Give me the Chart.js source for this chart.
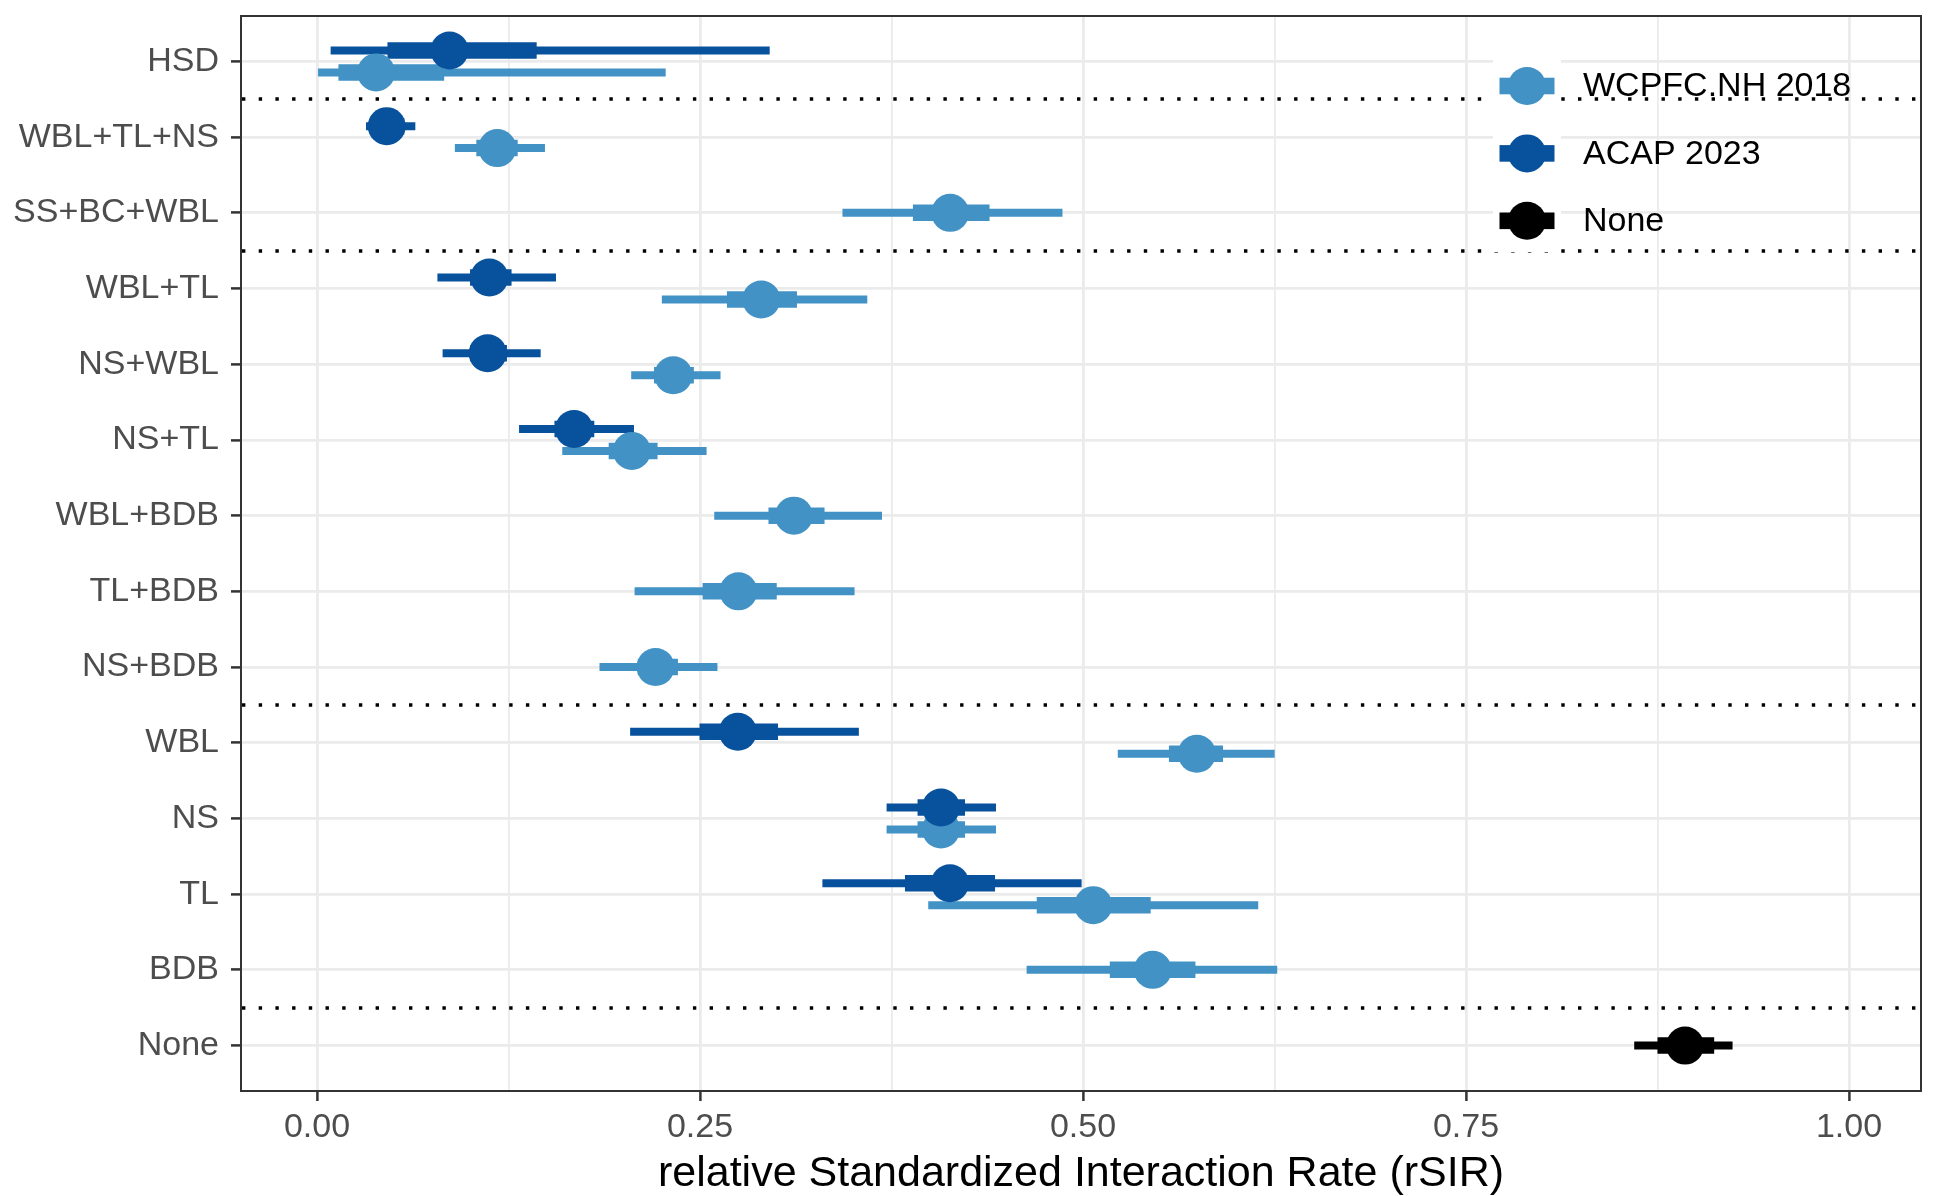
<!DOCTYPE html>
<html lang="en">
  <head>
    <meta charset="UTF-8" />
    <title>relative Standardized Interaction Rate</title>
    <script src="https://cdn.jsdelivr.net/npm/chart.js"></script>
    <style>
      html,
      body {
        margin: 0;
        padding: 0;
        background-color: #ffffff;
      }
    </style>
  </head>
  <body>
    <canvas id="rsirChart" width="1934" height="1196"></canvas>

    <script>
      // Mitigation combinations, top to bottom
      const categories = [
        "HSD",
        "WBL+TL+NS",
        "SS+BC+WBL",
        "WBL+TL",
        "NS+WBL",
        "NS+TL",
        "WBL+BDB",
        "TL+BDB",
        "NS+BDB",
        "WBL",
        "NS",
        "TL",
        "BDB",
        "None",
      ];
      const seriesNames = ["WCPFC.NH 2018", "ACAP 2023", "None"];
      const seriesColors = ["#4292c6", "#08519c", "#000000"];

      // WCPFC.NH 2018: estimate, 95% and 50% intervals
      const wcpfcEst = [0.0386, 0.1177, 0.4133, 0.29, 0.2326, 0.2055, 0.3113, 0.2751, 0.221, 0.5743, 0.4073, 0.5067, 0.5455, null];
      const wcpfcLo95 = [0.0007, 0.09, 0.343, 0.2251, 0.2051, 0.1601, 0.2593, 0.2073, 0.1844, 0.5227, 0.3718, 0.399, 0.4632, null];
      const wcpfcHi95 = [0.2276, 0.1488, 0.4866, 0.3592, 0.2634, 0.2543, 0.3688, 0.3509, 0.2614, 0.6251, 0.4432, 0.6144, 0.6268, null];
      const wcpfcLo50 = [0.014, 0.104, 0.389, 0.2676, 0.22, 0.1904, 0.2947, 0.2517, 0.2094, 0.5561, 0.392, 0.4698, 0.5175, null];
      const wcpfcHi50 = [0.083, 0.131, 0.439, 0.3133, 0.246, 0.2223, 0.3313, 0.3001, 0.2356, 0.5914, 0.423, 0.5442, 0.5734, null];

      // ACAP 2023
      const acapEst = [0.0865, 0.0455, null, 0.1125, 0.1114, 0.1678, null, null, null, 0.2747, 0.4073, 0.4132, null, null];
      const acapLo95 = [0.0089, 0.032, null, 0.0786, 0.082, 0.1319, null, null, null, 0.2044, 0.3718, 0.3299, null, null];
      const acapHi95 = [0.2955, 0.0642, null, 0.156, 0.146, 0.2069, null, null, null, 0.3537, 0.4432, 0.4991, null, null];
      const acapLo50 = [0.046, 0.036, null, 0.0999, 0.1, 0.155, null, null, null, 0.2497, 0.392, 0.3838, null, null];
      const acapHi50 = [0.1434, 0.057, null, 0.127, 0.124, 0.181, null, null, null, 0.3009, 0.423, 0.4426, null, null];

      // reference (no mitigation)
      const noneEst = [null, null, null, null, null, null, null, null, null, null, null, null, null, 0.893];
      const noneLo95 = [null, null, null, null, null, null, null, null, null, null, null, null, null, 0.8598];
      const noneHi95 = [null, null, null, null, null, null, null, null, null, null, null, null, null, 0.924];
      const noneLo50 = [null, null, null, null, null, null, null, null, null, null, null, null, null, 0.875];
      const noneHi50 = [null, null, null, null, null, null, null, null, null, null, null, null, null, 0.912];

      const xTickValues = [0, 0.25, 0.5, 0.75, 1];
      const xTickLabels = ["0.00", "0.25", "0.50", "0.75", "1.00"];
      const xMinorValues = [0.125, 0.375, 0.625, 0.875];
      const groupBreaks = [0.5, 2.5, 8.5, 12.5];

      const series = [
        { est: wcpfcEst, lo95: wcpfcLo95, hi95: wcpfcHi95, lo50: wcpfcLo50, hi50: wcpfcHi50, dodge: 0.145 },
        { est: acapEst, lo95: acapLo95, hi95: acapHi95, lo50: acapLo50, hi50: acapHi50, dodge: -0.145 },
        { est: noneEst, lo95: noneLo95, hi95: noneHi95, lo50: noneLo50, hi50: noneHi50, dodge: 0 },
      ];

      const FONT = '"Liberation Sans", Arial, sans-serif';

      // rows with two estimates get dodged vertically
      function rowY(s, i) {
        const shown = series.filter((d) => d.est[i] !== null).length;
        return shown > 1 ? i + series[s].dodge : i;
      }

      function segments(s, loArr, hiArr) {
        const out = [];
        series[s].est.forEach((v, i) => {
          if (v === null) return;
          const y = rowY(s, i);
          out.push({ x: loArr[i], y: y }, { x: hiArr[i], y: y }, { x: null, y: null });
        });
        return out;
      }

      const datasets = [];
      series.forEach((d, s) => {
        datasets.push({
          data: segments(s, d.lo95, d.hi95),
          showLine: true,
          spanGaps: false,
          borderColor: seriesColors[s],
          borderWidth: 8,
          borderCapStyle: "butt",
          pointRadius: 0,
          pointHoverRadius: 0,
          order: 9 - s,
        });
      });
      series.forEach((d, s) => {
        datasets.push({
          data: segments(s, d.lo50, d.hi50),
          showLine: true,
          spanGaps: false,
          borderColor: seriesColors[s],
          borderWidth: 16.5,
          borderCapStyle: "butt",
          pointRadius: 0,
          pointHoverRadius: 0,
          order: 6 - s,
        });
      });
      series.forEach((d, s) => {
        const pts = [];
        d.est.forEach((v, i) => {
          if (v !== null) pts.push({ x: v, y: rowY(s, i) });
        });
        datasets.push({
          data: pts,
          pointRadius: 19,
          pointHoverRadius: 19,
          pointBorderWidth: 0,
          pointBackgroundColor: seriesColors[s],
          backgroundColor: seriesColors[s],
          order: 3 - s,
        });
      });

      const isMajor = (v) => xTickValues.some((t) => Math.abs(t - v) < 1e-9);

      // dotted lines between groups of combinations
      const groupLines = {
        id: "groupLines",
        beforeDatasetsDraw(chart) {
          const { ctx, chartArea, scales } = chart;
          ctx.save();
          ctx.strokeStyle = "#000000";
          ctx.lineWidth = 3.5;
          ctx.setLineDash([3.4, 13.3]);
          groupBreaks.forEach((b) => {
            const y = Math.round(scales.y.getPixelForValue(b));
            ctx.beginPath();
            ctx.moveTo(chartArea.left + 1, y);
            ctx.lineTo(chartArea.right, y);
            ctx.stroke();
          });
          ctx.restore();
        },
      };

      // panel border + legend with white key boxes
      const panelExtras = {
        id: "panelExtras",
        afterDraw(chart) {
          const { ctx, chartArea } = chart;
          ctx.save();
          ctx.strokeStyle = "#333333";
          ctx.lineWidth = 2;
          ctx.strokeRect(chartArea.left, chartArea.top, chartArea.right - chartArea.left, chartArea.bottom - chartArea.top);

          const keyLeft = chartArea.right - 428;
          const keyTop = chartArea.top + 43;
          const keyW = 68;
          const step = 67.4;
          ctx.fillStyle = "#ffffff";
          ctx.fillRect(keyLeft, keyTop, keyW, step * 3 - 9);
          seriesNames.forEach((name, i) => {
            const cx = keyLeft + keyW / 2;
            const cy = keyTop + 27 + i * step;
            ctx.fillStyle = seriesColors[i];
            ctx.fillRect(cx - 27.5, cy - 8.3, 55, 16.6);
            ctx.beginPath();
            ctx.arc(cx, cy, 19, 0, Math.PI * 2);
            ctx.fill();
            ctx.fillStyle = "#000000";
            ctx.font = "34px " + FONT;
            ctx.textAlign = "left";
            ctx.textBaseline = "middle";
            ctx.fillText(name, keyLeft + 90, cy + 1);
          });
          ctx.restore();
        },
      };

      new Chart(document.getElementById("rsirChart"), {
        type: "scatter",
        data: { datasets: datasets },
        options: {
          responsive: false,
          animation: false,
          devicePixelRatio: 1,
          layout: { autoPadding: false, padding: { top: 16, right: 13, left: 0, bottom: 0 } },
          plugins: {
            legend: { display: false },
            tooltip: { enabled: false },
          },
          scales: {
            x: {
              type: "linear",
              min: -0.0496,
              max: 1.047,
              afterBuildTicks: (scale) => {
                scale.ticks = xTickValues.concat(xMinorValues).sort((a, b) => a - b).map((v) => ({ value: v }));
              },
              afterFit: (scale) => {
                scale.height = 105;
                scale.paddingLeft = 0;
                scale.paddingRight = 0;
              },
              border: { display: false },
              grid: {
                color: "#ebebeb",
                lineWidth: (ctx) => (ctx.tick && isMajor(ctx.tick.value) ? 2.8 : 1.8),
                tickColor: (ctx) => (ctx.tick && isMajor(ctx.tick.value) ? "#333333" : "rgba(0,0,0,0)"),
                tickWidth: 2.5,
                tickLength: 10,
              },
              ticks: {
                autoSkip: false,
                maxRotation: 0,
                padding: 6,
                color: "#4d4d4d",
                font: { family: FONT, size: 34 },
                callback: (v) => {
                  const k = xTickValues.findIndex((t) => Math.abs(t - v) < 1e-9);
                  return k >= 0 ? xTickLabels[k] : "";
                },
              },
              title: {
                display: true,
                text: "relative Standardized Interaction Rate (rSIR)",
                color: "#000000",
                font: { family: FONT, size: 43 },
                padding: { top: 0, bottom: -4 },
              },
            },
            y: {
              type: "linear",
              reverse: true,
              min: -0.6,
              max: 13.6,
              afterBuildTicks: (scale) => {
                scale.ticks = categories.map((c, i) => ({ value: i }));
              },
              afterFit: (scale) => {
                scale.width = 241;
                scale.paddingTop = 0;
                scale.paddingBottom = 0;
              },
              border: { display: false },
              grid: {
                color: "#ebebeb",
                lineWidth: 2.8,
                tickColor: "#333333",
                tickWidth: 2.5,
                tickLength: 10,
              },
              ticks: {
                autoSkip: false,
                padding: 12,
                color: "#4d4d4d",
                font: { family: FONT, size: 34 },
                callback: (v) => categories[v],
              },
            },
          },
        },
        plugins: [groupLines, panelExtras],
      });
    </script>
  </body>
</html>
